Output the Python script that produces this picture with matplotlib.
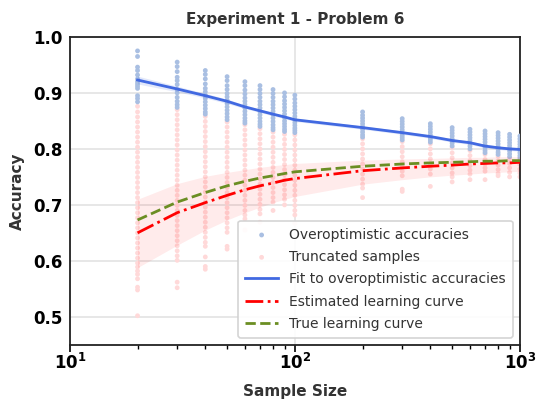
import matplotlib.pyplot as plt

# sample sizes and points
sample_sizes = [20, 30, 40, 50, 60, 70, 80, 90, 100, 200, 300, 400, 500, 600, 700, 800, 900, 1000]

overopt_acc = [
    [0.975, 0.965, 0.946, 0.940, 0.932, 0.925, 0.920, 0.916, 0.912, 0.908, 0.895, 0.890, 0.884],
    [0.955, 0.947, 0.938, 0.928, 0.922, 0.915, 0.906, 0.900, 0.892, 0.885, 0.879, 0.874],
    [0.940, 0.933, 0.925, 0.916, 0.908, 0.902, 0.896, 0.890, 0.884, 0.878, 0.872, 0.866, 0.862],
    [0.929, 0.922, 0.913, 0.906, 0.899, 0.893, 0.887, 0.881, 0.875, 0.869, 0.863, 0.857, 0.852],
    [0.920, 0.913, 0.905, 0.898, 0.891, 0.885, 0.879, 0.873, 0.867, 0.861, 0.855, 0.850, 0.846],
    [0.913, 0.906, 0.899, 0.892, 0.885, 0.879, 0.873, 0.867, 0.861, 0.855, 0.849, 0.844, 0.840],
    [0.906, 0.899, 0.892, 0.885, 0.879, 0.873, 0.867, 0.861, 0.855, 0.849, 0.843, 0.838, 0.834],
    [0.900, 0.893, 0.886, 0.880, 0.874, 0.868, 0.862, 0.856, 0.850, 0.845, 0.840, 0.835, 0.831],
    [0.896, 0.889, 0.882, 0.876, 0.870, 0.864, 0.858, 0.852, 0.847, 0.842, 0.837, 0.833, 0.829],
    [0.866, 0.860, 0.855, 0.850, 0.845, 0.840, 0.835, 0.830, 0.825, 0.821],
    [0.854, 0.849, 0.844, 0.839, 0.834, 0.829, 0.824, 0.820, 0.816],
    [0.845, 0.840, 0.835, 0.830, 0.825, 0.820, 0.816, 0.812],
    [0.838, 0.833, 0.828, 0.823, 0.818, 0.814, 0.810, 0.805],
    [0.835, 0.830, 0.825, 0.820, 0.815, 0.810, 0.805, 0.800],
    [0.832, 0.827, 0.822, 0.817, 0.812, 0.807, 0.802, 0.797, 0.793],
    [0.829, 0.824, 0.819, 0.814, 0.809, 0.804, 0.799, 0.794, 0.790],
    [0.826, 0.821, 0.816, 0.811, 0.806, 0.801, 0.796, 0.791, 0.786],
    [0.823, 0.818, 0.813, 0.808, 0.803, 0.798, 0.793, 0.788, 0.784],
]

truncated_acc = [
    [0.876, 0.866, 0.857, 0.848, 0.839, 0.830, 0.821, 0.812, 0.803, 0.794, 0.785, 0.776, 0.767,
     0.758, 0.749, 0.740, 0.731, 0.722, 0.713, 0.704, 0.695, 0.686, 0.677, 0.668, 0.659, 0.650,
     0.641, 0.632, 0.623, 0.614, 0.605, 0.596, 0.589, 0.582, 0.576, 0.568, 0.553, 0.548, 0.502],
    [0.870, 0.861, 0.852, 0.843, 0.834, 0.825, 0.816, 0.807, 0.798, 0.789, 0.780, 0.771, 0.762,
     0.753, 0.744, 0.735, 0.726, 0.717, 0.708, 0.699, 0.690, 0.681, 0.672, 0.663, 0.654, 0.645,
     0.636, 0.627, 0.618, 0.609, 0.601, 0.562, 0.552],
    [0.858, 0.849, 0.840, 0.831, 0.822, 0.813, 0.804, 0.795, 0.786, 0.777, 0.768, 0.759, 0.750,
     0.741, 0.732, 0.723, 0.714, 0.705, 0.696, 0.687, 0.678, 0.669, 0.660, 0.651, 0.642, 0.633,
     0.626, 0.607, 0.590, 0.585],
    [0.848, 0.839, 0.830, 0.821, 0.812, 0.803, 0.794, 0.785, 0.776, 0.767, 0.758, 0.749, 0.740,
     0.731, 0.722, 0.713, 0.704, 0.695, 0.686, 0.677, 0.668, 0.659, 0.651, 0.626, 0.621],
    [0.843, 0.834, 0.825, 0.816, 0.807, 0.798, 0.789, 0.780, 0.771, 0.762, 0.753, 0.744, 0.735,
     0.726, 0.717, 0.708, 0.699, 0.690, 0.682, 0.675, 0.655],
    [0.836, 0.827, 0.818, 0.809, 0.800, 0.791, 0.782, 0.773, 0.764, 0.755, 0.746, 0.737, 0.728,
     0.719, 0.710, 0.701, 0.692, 0.684, 0.669],
    [0.830, 0.821, 0.812, 0.803, 0.794, 0.785, 0.776, 0.767, 0.758, 0.749, 0.740, 0.731, 0.722,
     0.713, 0.705, 0.690],
    [0.826, 0.817, 0.808, 0.799, 0.790, 0.781, 0.772, 0.763, 0.754, 0.745, 0.736, 0.727, 0.718,
     0.710, 0.700],
    [0.825, 0.816, 0.807, 0.798, 0.789, 0.780, 0.771, 0.762, 0.753, 0.744, 0.735, 0.726, 0.717,
     0.708, 0.699, 0.690, 0.682, 0.667],
    [0.818, 0.809, 0.800, 0.791, 0.782, 0.773, 0.764, 0.755, 0.746, 0.737, 0.730, 0.713],
    [0.813, 0.804, 0.795, 0.786, 0.777, 0.768, 0.760, 0.752, 0.728, 0.724],
    [0.809, 0.800, 0.791, 0.782, 0.773, 0.764, 0.755, 0.733],
    [0.802, 0.793, 0.784, 0.775, 0.766, 0.757, 0.750, 0.741],
    [0.797, 0.788, 0.779, 0.770, 0.762, 0.755, 0.745],
    [0.790, 0.781, 0.773, 0.766, 0.760, 0.745],
    [0.787, 0.779, 0.771, 0.763, 0.756, 0.752],
    [0.782, 0.774, 0.766, 0.758, 0.750],
    [0.780, 0.772, 0.764, 0.757, 0.750],
]

fit_over = [0.923, 0.907, 0.895, 0.885, 0.875, 0.868, 0.862, 0.857, 0.852,
            0.838, 0.829, 0.822, 0.815, 0.811, 0.805, 0.802, 0.800, 0.799]
fit_over_lo = [0.916, 0.902, 0.891, 0.881, 0.872, 0.865, 0.859, 0.854, 0.849,
               0.835, 0.826, 0.819, 0.812, 0.808, 0.802, 0.799, 0.797, 0.796]
fit_over_hi = [0.930, 0.912, 0.899, 0.889, 0.878, 0.871, 0.865, 0.860, 0.855,
               0.841, 0.832, 0.825, 0.818, 0.814, 0.808, 0.805, 0.803, 0.802]

est_curve = [0.650, 0.686, 0.704, 0.717, 0.727, 0.734, 0.739, 0.744, 0.747,
             0.761, 0.766, 0.769, 0.771, 0.773, 0.774, 0.775, 0.775, 0.776]
est_lo = [0.588, 0.628, 0.655, 0.673, 0.686, 0.696, 0.704, 0.710, 0.715,
          0.737, 0.745, 0.750, 0.753, 0.755, 0.757, 0.758, 0.759, 0.760]
est_hi = [0.710, 0.738, 0.751, 0.758, 0.763, 0.767, 0.770, 0.772, 0.774,
          0.780, 0.782, 0.783, 0.784, 0.785, 0.785, 0.786, 0.786, 0.786]

true_curve = [0.673, 0.705, 0.722, 0.734, 0.742, 0.748, 0.752, 0.756, 0.759,
              0.769, 0.773, 0.775, 0.776, 0.777, 0.778, 0.778, 0.779, 0.779]

fig = plt.figure(figsize=(5.41, 4.01), dpi=100)
ax = fig.add_axes([0.129, 0.140, 0.832, 0.768])

# scatter the points column by column
for i, n in enumerate(sample_sizes):
    ax.scatter([n] * len(truncated_acc[i]), truncated_acc[i], s=12, color='#ffd9d9',
               edgecolors='none', zorder=2, label='Truncated samples' if i == 0 else None)
for i, n in enumerate(sample_sizes):
    ax.scatter([n] * len(overopt_acc[i]), overopt_acc[i], s=12, color='#a9bfe2',
               edgecolors='none', zorder=3, label='Overoptimistic accuracies' if i == 0 else None)

ax.fill_between(sample_sizes, fit_over_lo, fit_over_hi, color='#4169e1', alpha=0.15, lw=0, zorder=3)
ax.fill_between(sample_sizes, est_lo, est_hi, color='red', alpha=0.08, lw=0, zorder=3)

ax.plot(sample_sizes, fit_over, color='#4169e1', lw=2, zorder=4, label='Fit to overoptimistic accuracies')
ax.plot(sample_sizes, est_curve, color='red', lw=2, ls='-.', zorder=4, label='Estimated learning curve')
ax.plot(sample_sizes, true_curve, color='#6b8e23', lw=2, ls='--', zorder=4, label='True learning curve')

ax.set_xscale('log')
ax.set_xlim(10, 1000)
ax.set_ylim(0.45, 1.0)
ax.set_yticks([0.5, 0.6, 0.7, 0.8, 0.9, 1.0])

ax.grid(True, which='major', color='#e3e3e3', lw=1.2, zorder=0)
ax.set_axisbelow(True)
for s in ax.spines.values():
    s.set_color('#222222')
    s.set_linewidth(1.3)

ax.tick_params(axis='y', length=0, labelsize=12, pad=5)
ax.tick_params(axis='x', which='major', length=5, width=1.2, labelsize=12, pad=1)
ax.tick_params(axis='x', which='minor', length=3, width=1)
for lab in ax.get_xticklabels() + ax.get_yticklabels():
    lab.set_fontweight('bold')

ax.set_title('Experiment 1 - Problem 6', fontsize=11, fontweight='bold', color='#333333', pad=9)
ax.set_xlabel('Sample Size', fontsize=11, fontweight='bold', color='#333333', labelpad=8)
ax.set_ylabel('Accuracy', fontsize=11, fontweight='bold', color='#333333', labelpad=6)

# legend order as in the picture
h, l = ax.get_legend_handles_labels()
order = [l.index('Overoptimistic accuracies'), l.index('Truncated samples'),
         l.index('Fit to overoptimistic accuracies'), l.index('Estimated learning curve'),
         l.index('True learning curve')]
leg = ax.legend([h[k] for k in order], [l[k] for k in order], loc='lower right',
                fontsize=10, frameon=True, edgecolor='#d0d0d0', framealpha=0.9,
                handlelength=2.4, labelspacing=0.6, borderpad=0.5)
leg.get_frame().set_linewidth(1.2)
for t in leg.get_texts():
    t.set_color('#333333')

plt.savefig('out.png', dpi=100)
